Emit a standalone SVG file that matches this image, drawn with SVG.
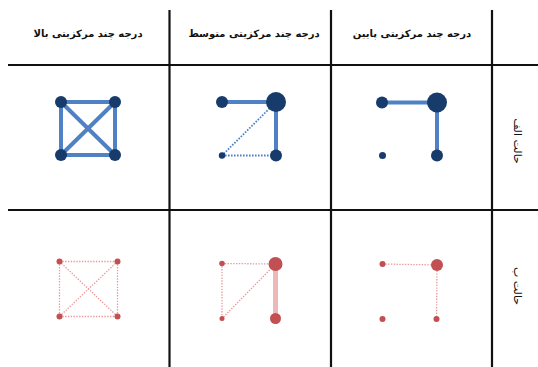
<svg xmlns="http://www.w3.org/2000/svg" width="538" height="367" viewBox="0 0 538 367">
<style>
.grid{stroke:#111;stroke-width:2.2;fill:none}
.hdr{font-family:"DejaVu Sans",sans-serif;font-weight:bold;font-size:10px;fill:#111;text-anchor:middle}
.row{font-family:"DejaVu Sans",sans-serif;font-size:11px;fill:#111;text-anchor:middle;dominant-baseline:central}
.be{stroke:#4f81c4;stroke-width:4;fill:none}
.bd{stroke:#4f81c4;stroke-width:1.8;stroke-dasharray:1.6 1.4;fill:none}
.bn{fill:#173b6a}
.re{stroke:#eeb8b8;stroke-width:5;fill:none}
.rd{stroke:#e99a9a;stroke-width:1.3;stroke-dasharray:1.4 1.4;fill:none}
.rn{fill:#c24f52}
</style>
<rect width="538" height="367" fill="#fff"/>
<g id="grid">
<line class="grid" x1="8" y1="65" x2="538" y2="65"/>
<line class="grid" x1="8" y1="210" x2="538" y2="210"/>
<line class="grid" x1="169.5" y1="10" x2="169.5" y2="367"/>
<line class="grid" x1="331" y1="10" x2="331" y2="367"/>
<line class="grid" x1="492" y1="10" x2="492" y2="367"/>
</g>
<g id="headers">
<text class="hdr" x="88" y="37">درجه چند مرکزیتی بالا</text>
<text class="hdr" x="254" y="37">درجه چند مرکزیتی متوسط</text>
<text class="hdr" x="412" y="37">درجه چند مرکزیتی پایین</text>
<text class="row" transform="rotate(90 517 141)" x="517" y="141">حالت الف</text>
<text class="row" transform="rotate(90 517 286)" x="517" y="286">حالت ب</text>
</g>
<g id="connectors">
<line class="be" x1="61" y1="102" x2="115" y2="102"/>
<line class="be" x1="61" y1="155" x2="115" y2="155"/>
<line class="be" x1="61" y1="102" x2="61" y2="155"/>
<line class="be" x1="115" y1="102" x2="115" y2="155"/>
<line class="be" x1="61" y1="102" x2="115" y2="155"/>
<line class="be" x1="115" y1="102" x2="61" y2="155"/>
<line class="be" x1="222" y1="102" x2="276" y2="102"/>
<line class="be" x1="276" y1="102" x2="276" y2="155.5"/>
<line class="bd" x1="276" y1="102" x2="222" y2="155.5"/>
<line class="bd" x1="222" y1="155.5" x2="276" y2="155.5"/>
<line class="be" x1="382" y1="102.5" x2="437" y2="102.5"/>
<line class="be" x1="437" y1="102.5" x2="437" y2="155.5"/>
<line class="rd" x1="59.5" y1="261.5" x2="117.5" y2="261.5"/>
<line class="rd" x1="59.5" y1="316.5" x2="117.5" y2="316.5"/>
<line class="rd" x1="59.5" y1="261.5" x2="59.5" y2="316.5"/>
<line class="rd" x1="117.5" y1="261.5" x2="117.5" y2="316.5"/>
<line class="rd" x1="59.5" y1="261.5" x2="117.5" y2="316.5"/>
<line class="rd" x1="117.5" y1="261.5" x2="59.5" y2="316.5"/>
<line class="rd" x1="222" y1="263.5" x2="275.5" y2="264"/>
<line class="rd" x1="222" y1="263.5" x2="222" y2="318.5"/>
<line class="rd" x1="275.5" y1="264" x2="222" y2="318.5"/>
<line class="re" x1="275.5" y1="264" x2="275.5" y2="318.5"/>
<line class="rd" x1="382.5" y1="264" x2="437" y2="265"/>
<line class="rd" x1="437" y1="265" x2="436.5" y2="319"/>
</g>
<g id="graph-a-high">
<circle class="bn" cx="61" cy="102" r="6"/>
<circle class="bn" cx="115" cy="102" r="6"/>
<circle class="bn" cx="61" cy="155" r="6"/>
<circle class="bn" cx="115" cy="155" r="6"/>
</g>
<g id="graph-a-mid">
<circle class="bn" cx="222" cy="102" r="6"/>
<circle class="bn" cx="276" cy="102" r="10"/>
<circle class="bn" cx="222" cy="155.5" r="3.2"/>
<circle class="bn" cx="276" cy="155.5" r="6"/>
</g>
<g id="graph-a-low">
<circle class="bn" cx="382" cy="102.5" r="6"/>
<circle class="bn" cx="437" cy="102.5" r="10"/>
<circle class="bn" cx="382.5" cy="155.5" r="3.5"/>
<circle class="bn" cx="437" cy="155.5" r="6"/>
</g>
<g id="graph-b-high">
<circle class="rn" cx="59.5" cy="261.5" r="3"/>
<circle class="rn" cx="117.5" cy="261.5" r="3"/>
<circle class="rn" cx="59.5" cy="316.5" r="3"/>
<circle class="rn" cx="117.5" cy="316.5" r="3"/>
</g>
<g id="graph-b-mid">
<circle class="rn" cx="222" cy="263.5" r="2.8"/>
<circle class="rn" cx="275.5" cy="264" r="7"/>
<circle class="rn" cx="222" cy="318.5" r="2.5"/>
<circle class="rn" cx="275.5" cy="318.5" r="5.5"/>
</g>
<g id="graph-b-low">
<circle class="rn" cx="382.5" cy="264" r="3"/>
<circle class="rn" cx="437" cy="265" r="6"/>
<circle class="rn" cx="382.5" cy="319" r="3"/>
<circle class="rn" cx="436.5" cy="319" r="3"/>
</g>
</svg>
